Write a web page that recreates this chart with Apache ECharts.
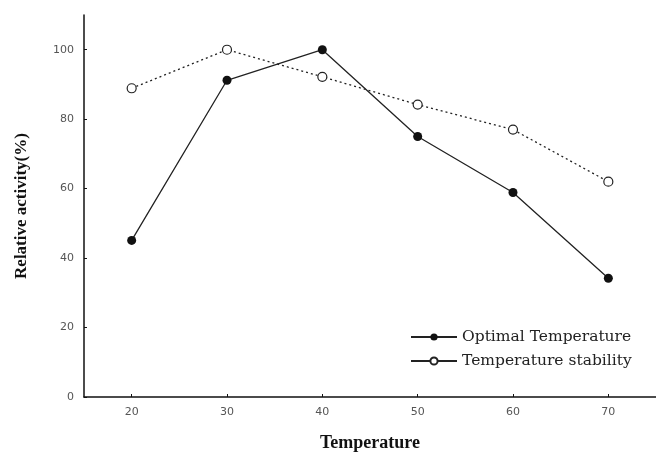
<!DOCTYPE html>
<html>
<head>
<meta charset="utf-8">
<script src="https://cdn.jsdelivr.net/npm/echarts@6/dist/echarts.min.js"></script>
<style>
  html, body { margin: 0; padding: 0; background: #fff; }
  #chart { width: 656px; height: 463px; }
</style>
</head>
<body>
<div id="chart"></div>
<script>
// data
const temperatures = [20, 30, 40, 50, 60, 70]
const optimalTemp = [45.1, 91.2, 100, 75, 58.9, 34.2]
const tempStability = [88.9, 100, 92.2, 84.2, 77, 62]
const xTicks = [20, 30, 40, 50, 60, 70]
const yTicks = [0, 20, 40, 60, 80, 100]

const pairs = (xs, ys) => xs.map((x, i) => [x, ys[i]])

const chart = echarts.init(document.getElementById('chart'))
chart.setOption({
  animation: false,
  grid: {left: 84, right: 0, top: 15, bottom: 66},
  legend: {
    orient: 'vertical',
    left: 405,
    top: 324,
    itemWidth: 46,
    itemHeight: 9,
    itemGap: 8,
    textStyle: {fontFamily: 'DejaVu Serif', fontSize: 15.5, color: '#222'},
    data: [
      {name: 'Optimal Temperature'},
      {name: 'Temperature stability', lineStyle: {type: 'solid'}}
    ]
  },
  xAxis: {
    type: 'value',
    min: 15,
    max: 75,
    name: 'Temperature',
    nameLocation: 'middle',
    nameGap: 37,
    nameTextStyle: {fontFamily: 'Liberation Serif', fontWeight: 'bold', fontSize: 18, color: '#111'},
    splitLine: {show: false},
    axisLine: {lineStyle: {color: '#111', width: 1.5}},
    axisTick: {inside: true, length: 3, customValues: xTicks, lineStyle: {color: '#111'}},
    axisLabel: {customValues: xTicks, margin: 10, fontSize: 11, color: '#555', fontFamily: 'DejaVu Sans'}
  },
  yAxis: {
    type: 'value',
    min: 0,
    max: 110,
    name: 'Relative activity(%)',
    nameLocation: 'middle',
    nameGap: 54,
    nameTextStyle: {fontFamily: 'Liberation Serif', fontWeight: 'bold', fontSize: 17, color: '#111'},
    splitLine: {show: false},
    axisLine: {show: true, lineStyle: {color: '#111', width: 1.5}},
    axisTick: {show: true, inside: true, length: 3, customValues: yTicks, lineStyle: {color: '#111'}},
    axisLabel: {customValues: yTicks, margin: 10, fontSize: 11, color: '#555', fontFamily: 'DejaVu Sans'}
  },
  series: [
    {
      name: 'Optimal Temperature',
      type: 'line',
      data: pairs(temperatures, optimalTemp),
      symbol: 'circle',
      symbolSize: 9,
      itemStyle: {color: '#111'},
      lineStyle: {color: '#222', width: 1.3}
    },
    {
      name: 'Temperature stability',
      type: 'line',
      data: pairs(temperatures, tempStability),
      symbol: 'circle',
      symbolSize: 9,
      itemStyle: {color: '#fff', borderColor: '#222', borderWidth: 1.2},
      lineStyle: {color: '#222', width: 1.3, type: [2, 3]}
    }
  ]
})
</script>
</body>
</html>
